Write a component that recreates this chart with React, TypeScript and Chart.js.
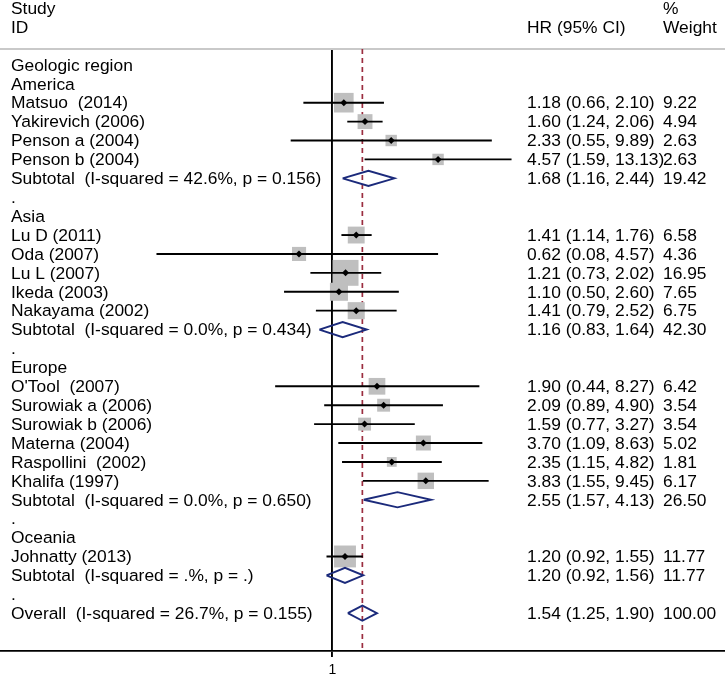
import React, { useEffect, useRef } from "react";
import { Chart, registerables } from "chart.js";

Chart.register(...registerables);

// ---------------- data ----------------
const sectionTitle = "Geologic region";
const headerLeft = ["Study", "ID"];
const headerHR = "HR (95% CI)";
const headerWeight = ["%", "Weight"];

const groupNames = ["America", "Asia", "Europe", "Oceania"];

const studyLabels = [
  "Matsuo  (2014)",
  "Yakirevich (2006)",
  "Penson a (2004)",
  "Penson b (2004)",
  "Lu D (2011)",
  "Oda (2007)",
  "Lu L (2007)",
  "Ikeda (2003)",
  "Nakayama (2002)",
  "O'Tool  (2007)",
  "Surowiak a (2006)",
  "Surowiak b (2006)",
  "Materna (2004)",
  "Raspollini  (2002)",
  "Khalifa (1997)",
  "Johnatty (2013)",
];
const studyGroup = [0, 0, 0, 0, 1, 1, 1, 1, 1, 2, 2, 2, 2, 2, 2, 3];
const studyHR = [1.18, 1.6, 2.33, 4.57, 1.41, 0.62, 1.21, 1.1, 1.41, 1.9, 2.09, 1.59, 3.7, 2.35, 3.83, 1.2];
const studyLower = [0.66, 1.24, 0.55, 1.59, 1.14, 0.08, 0.73, 0.5, 0.79, 0.44, 0.89, 0.77, 1.09, 1.15, 1.55, 0.92];
const studyUpper = [2.1, 2.06, 9.89, 13.13, 1.76, 4.57, 2.02, 2.6, 2.52, 8.27, 4.9, 3.27, 8.63, 4.82, 9.45, 1.55];
const studyWeight = [9.22, 4.94, 2.63, 2.63, 6.58, 4.36, 16.95, 7.65, 6.75, 6.42, 3.54, 3.54, 5.02, 1.81, 6.17, 11.77];

const subtotalLabels = [
  "Subtotal  (I-squared = 42.6%, p = 0.156)",
  "Subtotal  (I-squared = 0.0%, p = 0.434)",
  "Subtotal  (I-squared = 0.0%, p = 0.650)",
  "Subtotal  (I-squared = .%, p = .)",
];
const subtotalHR = [1.68, 1.16, 2.55, 1.2];
const subtotalLower = [1.16, 0.83, 1.57, 0.92];
const subtotalUpper = [2.44, 1.64, 4.13, 1.56];
const subtotalWeight = [19.42, 42.3, 26.5, 11.77];

const overallLabel = "Overall  (I-squared = 26.7%, p = 0.155)";
const overallHR = [1.54];
const overallLower = [1.25];
const overallUpper = [1.9];
const overallWeight = [100.0];

const xTickValues = [1];

// ---------------- layout / style constants ----------------
const W = 725;
const H = 677;
const FONT = '17.4px "Liberation Sans", Arial, Helvetica, sans-serif';
const LABEL_X = 11;
const HR_X = 527;
const WEIGHT_X = 663;
const TEXT_DY = 1;
const Y_MIN = -0.84;
const Y_MAX = 31;
const X_MIN = 0.00845;
const X_MAX = 281.8;
const DIAMOND_HALF = 0.4;
const GREY = "#bfbfbf";
const NAVY = "#1b2a7b";
const MAROON = "#9b2d3f";

type Row = {
  label: string;
  kind: "title" | "group" | "study" | "sub" | "gap" | "overall";
  hr?: number;
  lo?: number;
  hi?: number;
  w?: number;
};

function buildRows(): Row[] {
  const rows: Row[] = [{ label: sectionTitle, kind: "title" }];
  groupNames.forEach((g, gi) => {
    rows.push({ label: g, kind: "group" });
    studyLabels.forEach((s, si) => {
      if (studyGroup[si] === gi) {
        rows.push({ label: s, kind: "study", hr: studyHR[si], lo: studyLower[si], hi: studyUpper[si], w: studyWeight[si] });
      }
    });
    rows.push({ label: subtotalLabels[gi], kind: "sub", hr: subtotalHR[gi], lo: subtotalLower[gi], hi: subtotalUpper[gi], w: subtotalWeight[gi] });
    rows.push({ label: ".", kind: "gap" });
  });
  rows.push({ label: overallLabel, kind: "overall", hr: overallHR[0], lo: overallLower[0], hi: overallUpper[0], w: overallWeight[0] });
  return rows;
}

export default function App() {
  const ref = useRef<HTMLCanvasElement | null>(null);

  useEffect(() => {
    if (!ref.current) return;
    const rows = buildRows();
    const datasets: any[] = [];

    // dashed overall line
    datasets.push({
      type: "scatter",
      data: [
        { x: overallHR[0], y: Y_MIN },
        { x: overallHR[0], y: Y_MAX },
      ],
      showLine: true,
      borderColor: MAROON,
      borderWidth: 1.7,
      borderDash: [5, 4],
      pointRadius: 0,
      order: 10,
    });

    const squares: any[] = [];
    const squareR: number[] = [];
    const dots: any[] = [];
    rows.forEach((r, i) => {
      if (r.kind === "study") {
        squares.push({ x: r.hr, y: i });
        const side = 2 + 5.8 * Math.sqrt(r.w as number);
        squareR.push(side / Math.SQRT2);
        dots.push({ x: r.hr, y: i });
        datasets.push({
          type: "scatter",
          data: [
            { x: r.lo, y: i },
            { x: r.hi, y: i },
          ],
          showLine: true,
          borderColor: "#000",
          borderWidth: 1.9,
          pointRadius: 0,
          order: 4,
        });
      } else if (r.kind === "sub" || r.kind === "overall") {
        datasets.push({
          type: "scatter",
          data: [
            { x: r.lo, y: i },
            { x: r.hr, y: i - DIAMOND_HALF },
            { x: r.hi, y: i },
            { x: r.hr, y: i + DIAMOND_HALF },
            { x: r.lo, y: i },
          ],
          showLine: true,
          borderColor: NAVY,
          borderWidth: 1.9,
          borderJoinStyle: "miter",
          pointRadius: 0,
          fill: false,
          order: 2,
        });
      }
    });

    datasets.push({
      type: "scatter",
      data: squares,
      pointStyle: "rect",
      pointRadius: squareR,
      pointBackgroundColor: GREY,
      pointBorderWidth: 0,
      pointBorderColor: GREY,
      order: 5,
    });
    datasets.push({
      type: "scatter",
      data: dots,
      pointStyle: "rectRot",
      pointRadius: 3.5,
      pointBackgroundColor: "#000",
      pointBorderWidth: 0,
      order: 3,
    });

    const textPlugin = {
      id: "forestText",
      beforeDatasetsDraw(chart: any) {
        const { ctx, chartArea } = chart;
        ctx.save();
        ctx.strokeStyle = "#c9c9c9";
        ctx.lineWidth = 2;
        ctx.beginPath();
        ctx.moveTo(0, chartArea.top);
        ctx.lineTo(W, chartArea.top);
        ctx.stroke();
        ctx.restore();
      },
      afterDraw(chart: any) {
        const { ctx } = chart;
        const y = chart.scales.y;
        const py = (v: number) => y.getPixelForValue(v) + TEXT_DY;
        ctx.save();
        ctx.font = FONT;
        ctx.fillStyle = "#000";
        ctx.textBaseline = "middle";
        ctx.textAlign = "left";
        ctx.fillText(headerLeft[0], LABEL_X, py(-3));
        ctx.fillText(headerLeft[1], LABEL_X, py(-2));
        ctx.fillText(headerHR, HR_X, py(-2));
        ctx.fillText(headerWeight[0], WEIGHT_X, py(-3));
        ctx.fillText(headerWeight[1], WEIGHT_X, py(-2));
        rows.forEach((r, i) => {
          const yy = py(i);
          ctx.fillText(r.label, LABEL_X, yy);
          if (r.hr !== undefined) {
            const t = `${r.hr.toFixed(2)} (${(r.lo as number).toFixed(2)}, ${(r.hi as number).toFixed(2)})`;
            ctx.fillText(t, HR_X, yy);
            ctx.fillText((r.w as number).toFixed(2), WEIGHT_X, yy);
          }
        });
        ctx.restore();
      },
    };

    const chart = new Chart(ref.current, {
      type: "scatter",
      data: { datasets },
      options: {
        animation: false,
        responsive: false,
        events: [],
        layout: { autoPadding: false, padding: { top: 49, left: 0, right: 0, bottom: 0 } },
        plugins: { legend: { display: false }, tooltip: { enabled: false } },
        scales: {
          x: {
            type: "logarithmic",
            min: X_MIN,
            max: X_MAX,
            bounds: "data",
            afterBuildTicks: (scale: any) => {
              scale.ticks = xTickValues.map((v) => ({ value: v }));
            },
            afterFit: (scale: any) => {
              scale.height = 26;
            },
            grid: {
              display: true,
              drawOnChartArea: true,
              drawTicks: true,
              tickLength: 6,
              color: "#000",
              lineWidth: 1.9,
            },
            border: { display: true, color: "#000", width: 1.7 },
            ticks: {
              autoSkip: false,
              maxRotation: 0,
              padding: 5,
              color: "#000",
              font: { family: '"Liberation Sans", Arial, sans-serif', size: 14 },
              callback: (v: any) => String(v),
            },
          },
          y: {
            type: "linear",
            reverse: true,
            min: Y_MIN,
            max: Y_MAX,
            display: false,
          },
        },
      } as any,
      plugins: [textPlugin],
    });
    return () => chart.destroy();
  }, []);

  return (
    <div style={{ position: "absolute", left: 0, top: 0, width: W, height: H, background: "#fff" }}>
      <canvas ref={ref} width={W} height={H} />
    </div>
  );
}
